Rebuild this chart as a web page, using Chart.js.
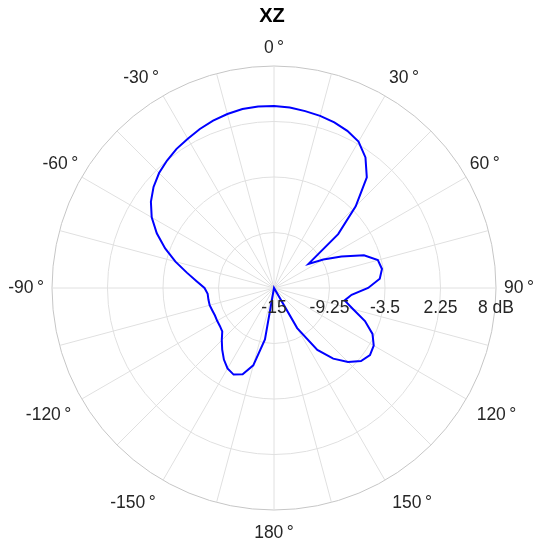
<!DOCTYPE html>
<html>
<head>
<meta charset="utf-8">
<script src="https://cdn.jsdelivr.net/npm/chart.js@4/dist/chart.umd.min.js"></script>
<style>
  html, body { margin: 0; padding: 0; background: #ffffff; }
  #wrap { width: 548px; height: 550px; }
</style>
</head>
<body>
<div id="wrap"><canvas id="c" width="548" height="550"></canvas></div>
<script>
// Angles (degrees, clockwise from top), 5 degree steps
const angles = [0,5,10,15,20,25,30,35,40,45,50,55,60,65,70,75,80,85,90,95,100,105,110,115,
  120,125,130,135,140,145,150,155,160,165,170,175,180,185,190,195,200,205,210,215,220,225,230,235,
  240,245,250,255,260,265,270,275,280,285,290,295,300,305,310,315,320,325,330,335,340,345,350,355];
// Gain in dB
const gainXZ = [3.85,3.77,3.61,3.46,3.27,2.97,2.51,1.52,-0.04,-3.03,-6.32,-10.64,-9.1,-7.29,-5.08,-3.86,-3.64,-4.0,
  -5.25,-6.93,-7.57,-6.51,-4.97,-3.74,-3.07,-2.86,-3.23,-4.15,-5.45,-7.17,-10.2,-15,-15,-15,-15,-15,
  -15,-15,-9.6,-6.7,-5.5,-5.1,-5.37,-5.95,-6.65,-7.35,-8.0,-8.15,-8.2,-8.25,-8.2,-8.1,-8.1,-8.1,
  -7.8,-6.95,-5.83,-4.43,-3.0,-1.6,-0.37,0.57,1.29,1.84,2.24,2.6,2.86,3.18,3.45,3.66,3.83,3.88];
// Radial ticks
const rTicks = [-15, -9.25, -3.5, 2.25, 8];
const rUnit = 'dB';
const chartTitle = 'XZ';

const FONT = "'Liberation Sans', Arial, Helvetica, sans-serif";
const TEXT = '#262626';

// gap between outer ring and each labelled angle's text
function labelGap(a) {
  if (a % 30 !== 0) return 0;
  const m = a <= 180 ? a : 360 - a;
  if (m === 0) return 7;
  if (m === 30) return 8;
  if (m === 60) return 4;
  if (m === 90) return 8;
  if (m === 120) return 12;
  if (m === 150) return 14.5;
  return 13; // 180
}

const radialTickPlugin = {
  id: 'radialTicks',
  afterDatasetsDraw(chart) {
    const s = chart.scales.r;
    const ctx = chart.ctx;
    ctx.save();
    ctx.font = '17.5px ' + FONT;
    ctx.fillStyle = TEXT;
    ctx.textAlign = 'center';
    ctx.textBaseline = 'middle';
    rTicks.forEach((v, i) => {
      const d = s.getDistanceFromCenterForValue(v);
      const txt = (i === rTicks.length - 1) ? (v + ' ' + rUnit) : String(v);
      ctx.fillText(txt, s.xCenter + d, s.yCenter + 20);
    });
    ctx.restore();
  }
};

new Chart(document.getElementById('c'), {
  type: 'radar',
  data: {
    labels: angles,
    datasets: [{
      data: gainXZ,
      borderColor: '#0000ff',
      borderWidth: 2,
      pointRadius: 0,
      pointHoverRadius: 0,
      fill: false,
      tension: 0
    }]
  },
  options: {
    responsive: false,
    animation: false,
    events: [],
    layout: { padding: { left: 0, right: 4, top: 0, bottom: 3 } },
    plugins: {
      legend: { display: false },
      tooltip: { enabled: false },
      title: {
        display: true,
        text: chartTitle,
        color: '#000000',
        font: { family: FONT, size: 20, weight: 'bold' },
        padding: { top: 4, bottom: 7 }
      }
    },
    scales: {
      r: {
        min: -15,
        max: 8,
        startAngle: 0,
        afterBuildTicks(scale) { scale.ticks = rTicks.map(v => ({ value: v })); },
        ticks: { display: false },
        grid: {
          circular: true,
          color: (ctx) => ctx.index === rTicks.length - 1 ? '#c6c6c6' : '#e0e0e0',
          lineWidth: 1
        },
        angleLines: {
          display: true,
          color: (ctx) => (angles[ctx.index] % 15 === 0) ? '#e0e0e0' : 'rgba(0,0,0,0)',
          lineWidth: 1
        },
        pointLabels: {
          display: true,
          padding: (ctx) => labelGap(angles[ctx.index]),
          color: TEXT,
          font: { family: FONT, size: 17.5 },
          callback: (label) => {
            const a = Number(label);
            if (a % 30 !== 0) return '';
            const v = a <= 180 ? a : a - 360;
            return v + '\u2009°';
          }
        }
      }
    }
  },
  plugins: [radialTickPlugin]
});
</script>
</body>
</html>
